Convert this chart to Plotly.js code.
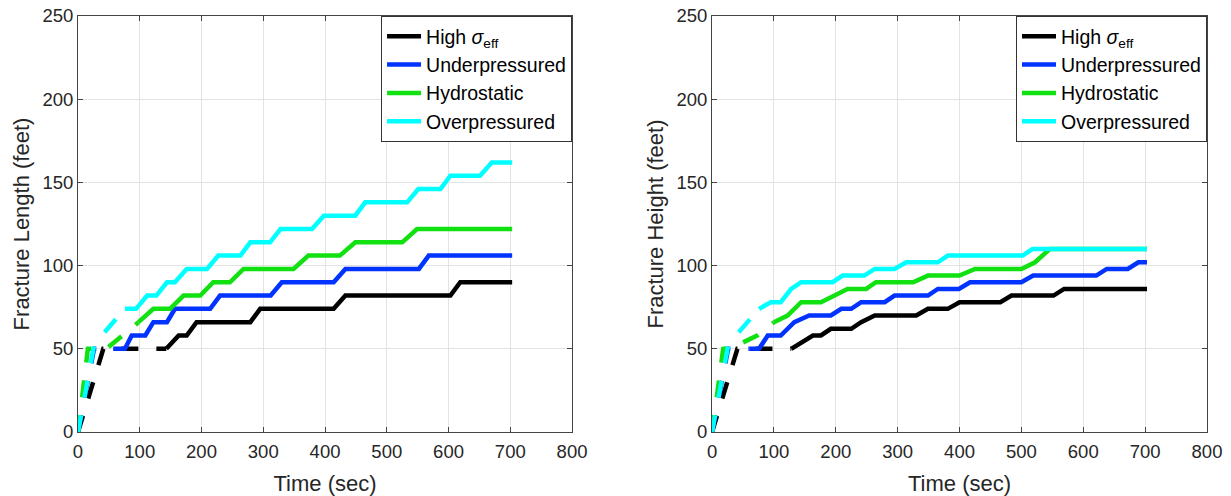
<!DOCTYPE html>
<html>
<head>
<meta charset="utf-8">
<script src="https://cdn.plot.ly/plotly-3.0.1.min.js"></script>
<style>html,body{margin:0;padding:0;background:#fff;}#chart{width:1231px;height:496px;}</style>
</head>
<body>
<div id="chart"></div>
<script>
// ---------- data (time in sec, size in feet) ----------
const seriesNames = ['High <i>σ</i><sub>eff</sub>', 'Underpressured', 'Hydrostatic', 'Overpressured'];
const seriesColors = ['#000000', '#0033ff', '#11e011', '#00ffff'];

// Fracture length: early (dashed) part
const lenHighEarlyT = [0, 41, 143];
const lenHighEarlyV = [0, 50, 50];
const lenUnderEarlyT = [0, 26, 57];
const lenUnderEarlyV = [0, 50, 50];
const lenHydroEarlyT = [0, 16, 46, 98];
const lenHydroEarlyV = [0, 50, 50, 66];
const lenOverEarlyT = [0, 26, 36, 56, 76];
const lenOverEarlyV = [0, 52, 57, 66, 74];
// Fracture length: later (solid) part
const lenHighT = [143, 163, 176, 192, 279, 295, 414, 433, 603, 619, 703];
const lenHighV = [50, 58, 58, 66, 66, 74, 74, 82, 82, 90, 90];
const lenUnderT = [57, 76, 87, 109, 122, 144, 157, 214, 230, 312, 330, 414, 433, 552, 568, 703];
const lenUnderV = [50, 50, 58, 58, 66, 66, 74, 74, 82, 82, 90, 90, 98, 98, 106, 106];
const lenHydroT = [98, 122, 149, 171, 198, 219, 246, 268, 349, 373, 424, 449, 525, 549, 703];
const lenHydroV = [66, 74, 74, 82, 82, 90, 90, 98, 98, 106, 106, 114, 114, 122, 122];
const lenOverT = [76, 94, 112, 127, 144, 157, 176, 209, 227, 263, 279, 311, 328, 379, 398, 449, 465, 533, 551, 587, 603, 651, 670, 703];
const lenOverV = [74, 74, 82, 82, 90, 90, 98, 98, 106, 106, 114, 114, 122, 122, 130, 130, 138, 138, 146, 146, 154, 154, 162, 162];

// Fracture height: early (dashed) part
const hgtHighEarlyT = [0, 41, 128];
const hgtHighEarlyV = [0, 50, 50];
const hgtUnderEarlyT = [0, 26, 60];
const hgtUnderEarlyV = [0, 50, 50];
const hgtHydroEarlyT = [0, 18, 40, 73, 100];
const hgtHydroEarlyV = [0, 50, 52, 58, 66];
const hgtOverEarlyT = [0, 26, 36, 56, 76];
const hgtOverEarlyV = [0, 52, 57, 66, 74];
// Fracture height: later (solid) part
const hgtHighT = [128, 163, 176, 192, 225, 241, 263, 330, 349, 381, 400, 466, 484, 552, 569, 703];
const hgtHighV = [50, 58, 58, 62, 62, 66, 70, 70, 74, 74, 78, 78, 82, 82, 86, 86];
const hgtUnderT = [60, 76, 90, 111, 133, 157, 192, 209, 225, 241, 279, 295, 349, 365, 399, 417, 500, 519, 621, 638, 672, 689, 703];
const hgtUnderV = [50, 50, 58, 58, 66, 70, 70, 74, 74, 78, 78, 82, 82, 86, 86, 90, 90, 94, 94, 98, 98, 102, 102];
const hgtHydroT = [100, 122, 144, 176, 198, 219, 249, 265, 325, 349, 400, 425, 500, 522, 546, 703];
const hgtHydroV = [66, 70, 78, 78, 82, 86, 86, 90, 90, 94, 94, 98, 98, 102, 110, 110];
const hgtOverT = [76, 95, 111, 128, 144, 195, 211, 246, 263, 295, 314, 365, 381, 502, 518, 703];
const hgtOverV = [74, 78, 78, 86, 90, 90, 94, 94, 98, 98, 102, 102, 106, 106, 110, 110];

const xTicks = [0, 100, 200, 300, 400, 500, 600, 700, 800];
const yTicks = [0, 50, 100, 150, 200, 250];

// ---------- traces ----------
const LW = 4.5;
const DASH = '17px,18px';
const traces = [];
function addSeries(idx, earlyT, earlyV, t, v, xa, ya, leg, grp) {
  traces.push({x: earlyT, y: earlyV, xaxis: xa, yaxis: ya, type: 'scatter', mode: 'lines',
    line: {color: seriesColors[idx], width: LW, dash: DASH}, showlegend: false,
    legendgroup: grp + idx, hoverinfo: 'skip'});
  traces.push({x: t, y: v, xaxis: xa, yaxis: ya, type: 'scatter', mode: 'lines', name: seriesNames[idx],
    line: {color: seriesColors[idx], width: LW}, legend: leg, legendgroup: grp + idx});
}
addSeries(0, lenHighEarlyT, lenHighEarlyV, lenHighT, lenHighV, 'x', 'y', 'legend', 'L');
addSeries(1, lenUnderEarlyT, lenUnderEarlyV, lenUnderT, lenUnderV, 'x', 'y', 'legend', 'L');
addSeries(2, lenHydroEarlyT, lenHydroEarlyV, lenHydroT, lenHydroV, 'x', 'y', 'legend', 'L');
addSeries(3, lenOverEarlyT, lenOverEarlyV, lenOverT, lenOverV, 'x', 'y', 'legend', 'L');
addSeries(0, hgtHighEarlyT, hgtHighEarlyV, hgtHighT, hgtHighV, 'x2', 'y2', 'legend2', 'H');
addSeries(1, hgtUnderEarlyT, hgtUnderEarlyV, hgtUnderT, hgtUnderV, 'x2', 'y2', 'legend2', 'H');
addSeries(2, hgtHydroEarlyT, hgtHydroEarlyV, hgtHydroT, hgtHydroV, 'x2', 'y2', 'legend2', 'H');
addSeries(3, hgtOverEarlyT, hgtOverEarlyV, hgtOverT, hgtOverV, 'x2', 'y2', 'legend2', 'H');

// ---------- layout ----------
const FONT = 'Liberation Sans, Arial, Helvetica, sans-serif';
const TXT = '#262626';
function xAxis(domain, anchor) {
  return {domain: domain, anchor: anchor, range: [0, 800], tickvals: xTicks, ticktext: xTicks.map(String),
    showgrid: true, gridcolor: '#e3e3e3', gridwidth: 1, zeroline: false,
    showline: true, linecolor: '#444444', linewidth: 1, mirror: 'ticks',
    ticks: 'inside', ticklen: 5, tickcolor: '#444444', tickwidth: 1,
    ticklabelstandoff: 3,
    tickfont: {family: FONT, size: 18.5, color: TXT},
    title: {text: 'Time (sec)', font: {family: FONT, size: 22, color: TXT}, standoff: 14},
    fixedrange: true};
}
function yAxis(anchor, title) {
  return {domain: [0, 1], anchor: anchor, range: [0, 250], tickvals: yTicks, ticktext: yTicks.map(String),
    showgrid: true, gridcolor: '#e3e3e3', gridwidth: 1, zeroline: false,
    showline: true, linecolor: '#444444', linewidth: 1, mirror: 'ticks',
    ticks: 'inside', ticklen: 5, tickcolor: '#444444', tickwidth: 1,
    tickfont: {family: FONT, size: 18.5, color: TXT},
    title: {text: title, font: {family: FONT, size: 22, color: TXT}, standoff: 6},
    fixedrange: true};
}
const legendStyle = {
  yanchor: 'top', y: 1, xanchor: 'right',
  bgcolor: '#ffffff', bordercolor: '#333333', borderwidth: 1,
  font: {family: FONT, size: 19.5, color: '#000000'},
  tracegroupgap: 0, itemwidth: 34
};
const layout = {
  width: 1231, height: 496,
  margin: {l: 78, r: 24, t: 16, b: 64},
  paper_bgcolor: '#ffffff', plot_bgcolor: '#ffffff',
  font: {family: FONT, color: TXT},
  xaxis: xAxis([0, 0.4376], 'y'),
  yaxis: yAxis('x', 'Fracture Length (feet)'),
  xaxis2: xAxis([0.5616, 1], 'y2'),
  yaxis2: yAxis('x2', 'Fracture Height (feet)'),
  legend: Object.assign({}, legendStyle, {x: 0.4376}),
  legend2: Object.assign({}, legendStyle, {x: 1}),
  showlegend: true
};
Plotly.newPlot('chart', traces, layout, {displayModeBar: false, staticPlot: true});
</script>
</body>
</html>
